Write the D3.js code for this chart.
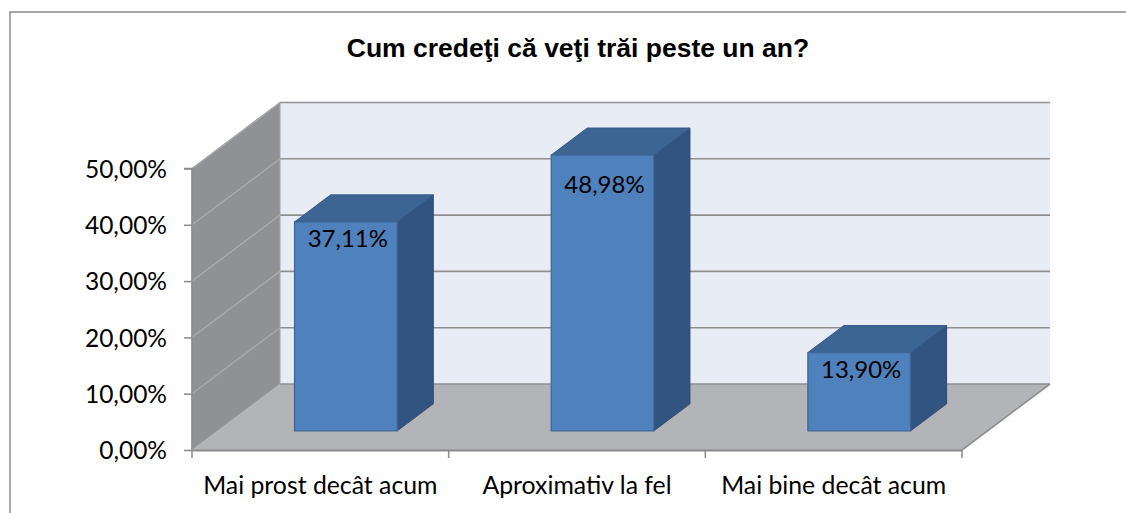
<!DOCTYPE html>
<html>
<head>
<meta charset="utf-8">
<script src="https://cdn.jsdelivr.net/npm/d3@7"></script>
<style>
  html, body { margin: 0; padding: 0; background: #fff; }
  svg { display: block; }
</style>
</head>
<body>
<svg id="chart" width="1126" height="513"></svg>
<script>
const title = "Cum credeţi că veţi trăi peste un an?";
const categories = ["Mai prost decât acum", "Aproximativ la fel", "Mai bine decât acum"];
const values = [37.11, 48.98, 13.90];
const tickValues = [0, 10, 20, 30, 40, 50];

const svg = d3.select("#chart");
const W = 1126, H = 513;

const roLocale = d3.formatLocale({ decimal: ",", thousands: ".", grouping: [3], currency: ["", " lei"] });
const fmt = v => roLocale.format(".2f")(v) + "%";

// geometry
const front = { left: 192, right: 962, bottom: 450, top: 168.5 };
const DX = 88, DY = -66;            // depth offset of back wall
const depthFront = 0.29, depthBack = 0.70;
const barFrac = 0.40;

const y = d3.scaleLinear().domain([0, 50]).range([front.bottom, front.top]);
const x = d3.scaleBand().domain(categories).range([front.left, front.right]).padding(0);

const FONT = "Lato, 'Open Sans', sans-serif";

// outer border
svg.append("rect").attr("x", 10).attr("y", 12).attr("width", W + 20).attr("height", H + 20)
  .attr("fill", "#fff").attr("stroke", "#8a8a8a").attr("stroke-width", 1.5);

// title
svg.append("text").attr("x", 578).attr("y", 57).attr("text-anchor", "middle")
  .attr("font-family", "'Liberation Sans', Arial, sans-serif").attr("font-weight", "bold")
  .attr("font-size", 26.5).attr("fill", "#000").text(title);

const P = (px, py, d) => [px + DX * d, py + DY * d];
const poly = pts => "M" + pts.map(p => p.join(",")).join("L") + "Z";

// back wall
svg.append("path")
  .attr("d", poly([P(front.left, y(0), 1), P(front.left, y(50), 1), P(front.right, y(50), 1), P(front.right, y(0), 1)]))
  .attr("fill", "#E8ECF5");

// back gridlines
svg.append("g").selectAll("line").data(tickValues.filter(v => v > 0)).join("line")
  .attr("x1", front.left + DX).attr("x2", front.right + DX)
  .attr("y1", v => y(v) + DY).attr("y2", v => y(v) + DY)
  .attr("stroke", "#8f8f8f").attr("stroke-width", 1.6);

// left wall
svg.append("path")
  .attr("d", poly([P(front.left, y(0), 0), P(front.left, y(50), 0), P(front.left, y(50), 1), P(front.left, y(0), 1)]))
  .attr("fill", "#909194").attr("stroke", "#a3a4a6").attr("stroke-width", 1);

// left wall gridlines
svg.append("g").selectAll("line").data(tickValues.filter(v => v > 0)).join("line")
  .attr("x1", front.left).attr("x2", front.left + DX)
  .attr("y1", v => y(v)).attr("y2", v => y(v) + DY)
  .attr("stroke", "#a9aaac").attr("stroke-width", 1.4);

// floor
svg.append("path")
  .attr("d", poly([P(front.left, y(0), 0), P(front.left, y(0), 1), P(front.right, y(0), 1), P(front.right, y(0), 0)]))
  .attr("fill", "#B2B4B7");
// floor back edge
svg.append("line").attr("x1", front.left + DX).attr("x2", front.right + DX)
  .attr("y1", y(0) + DY).attr("y2", y(0) + DY).attr("stroke", "#8f8f8f").attr("stroke-width", 1.6);
// floor right edge
svg.append("line").attr("x1", front.right).attr("y1", y(0))
  .attr("x2", front.right + DX).attr("y2", y(0) + DY).attr("stroke", "#8f8f8f").attr("stroke-width", 1.6);

// bars
const bw = x.bandwidth() * barFrac;
const bars = svg.append("g").selectAll("g").data(categories.map((c, i) => ({ c, v: values[i] }))).join("g");
bars.each(function (d) {
  const g = d3.select(this);
  const cx = x(d.c) + x.bandwidth() / 2;
  const x0 = cx - bw / 2, x1 = cx + bw / 2;
  const yb = y(0), yt = y(d.v);
  const fBL = P(x0, yb, depthFront), fBR = P(x1, yb, depthFront);
  const fTL = P(x0, yt, depthFront), fTR = P(x1, yt, depthFront);
  const bBR = P(x1, yb, depthBack), bTL = P(x0, yt, depthBack), bTR = P(x1, yt, depthBack);
  g.append("path").attr("d", poly([fBR, fTR, bTR, bBR])).attr("fill", "#325480").attr("stroke", "#2c4a72").attr("stroke-width", 1);
  g.append("path").attr("d", poly([fTL, bTL, bTR, fTR])).attr("fill", "#3D6594").attr("stroke", "#36598a").attr("stroke-width", 1);
  g.append("path").attr("d", poly([fBL, fTL, fTR, fBR])).attr("fill", "#4F81BD").attr("stroke", "#3C6699").attr("stroke-width", 1.2);
  const labelY = Math.max(fTL[1] + 25, y(50) + 24);
  g.append("text").attr("x", (fTL[0] + fTR[0]) / 2 + 2).attr("y", labelY)
    .attr("text-anchor", "middle").attr("font-family", FONT).attr("font-size", 24)
    .attr("fill", "#000").text(fmt(d.v));
});

// value axis
const yAxis = d3.axisLeft(y).tickValues(tickValues).tickSize(8).tickPadding(17).tickFormat(fmt);
const ya = svg.append("g").attr("transform", `translate(${front.left},0)`).call(yAxis);
ya.select(".domain").attr("stroke", "#8a8a8a").attr("stroke-width", 1.5).attr("d", `M-8,${y(50)}H0V${y(0)}`);
ya.selectAll(".tick line").attr("stroke", "#8a8a8a").attr("stroke-width", 1.5);
ya.selectAll(".tick text").attr("font-family", FONT).attr("font-size", 24.5).attr("fill", "#000").attr("dy", "0.36em");

// category axis
const xa = svg.append("g").attr("transform", `translate(0,${front.bottom})`)
  .call(d3.axisBottom(x).tickSize(0).tickPadding(26));
xa.select(".domain").attr("stroke", "#8a8a8a").attr("stroke-width", 2);
xa.selectAll(".tick text").attr("font-family", FONT).attr("font-size", 24.8).attr("fill", "#000");
const edges = categories.map(c => x(c)).concat([x.range()[1]]);
xa.append("g").selectAll("line").data(edges).join("line")
  .attr("x1", d => d).attr("x2", d => d).attr("y1", 0).attr("y2", 8)
  .attr("stroke", "#8a8a8a").attr("stroke-width", 1.5);
</script>
</body>
</html>
